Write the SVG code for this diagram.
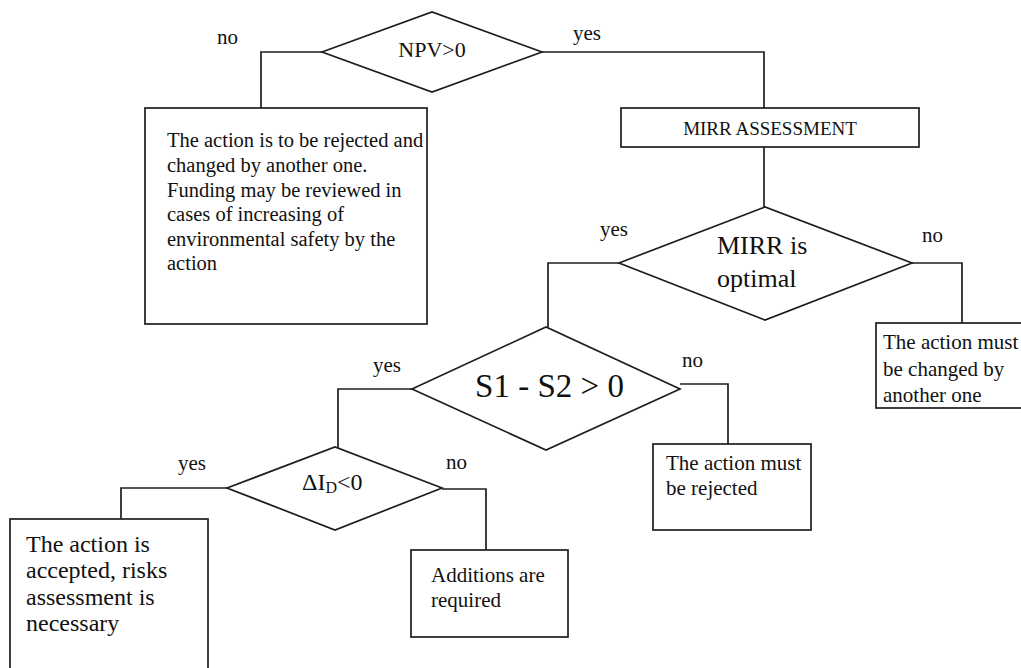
<svg xmlns="http://www.w3.org/2000/svg" width="1021" height="668" viewBox="0 0 1021 668">
<style>
.shape{fill:#fff;stroke:#1e1e1e;stroke-width:1.7}
.conn{fill:none;stroke:#1e1e1e;stroke-width:1.7}
text{font-family:"Liberation Serif","Times New Roman",serif;fill:#111}
.lbl{font-size:21px}
.box{font-size:21px}
</style>
<rect width="1021" height="668" fill="#fff"/>
<g id="connectors">
<polyline class="conn" points="322,52 261,52 261,108"/>
<polyline class="conn" points="542,52 764,52 764,108"/>
<polyline class="conn" points="764,147 764,207"/>
<polyline class="conn" points="619,263 548,263 548,327"/>
<polyline class="conn" points="912,263 962,263 962,323"/>
<polyline class="conn" points="412,389 338,389 338,448"/>
<polyline class="conn" points="680,384 728,384 728,444"/>
<polyline class="conn" points="227,488 121,488 121,519"/>
<polyline class="conn" points="442,489 486,489 486,550"/>
<text class="lbl" x="217" y="44">no</text>
<text class="lbl" x="573" y="40">yes</text>
<text class="lbl" x="600" y="236">yes</text>
<text class="lbl" x="922" y="242">no</text>
<text class="lbl" x="373" y="372">yes</text>
<text class="lbl" x="682" y="367">no</text>
<text class="lbl" x="178" y="470">yes</text>
<text class="lbl" x="446" y="469">no</text>
</g>
<g id="npv">
<polygon class="shape" points="322,52 432,12 542,52 432,92"/>
<text x="432" y="57" font-size="22" text-anchor="middle">NPV&gt;0</text>
</g>
<g id="reject-npv">
<rect class="shape" x="145" y="108" width="282" height="216"/>
<text class="box" font-size="20.5" style="font-size:20.5px">
<tspan x="167" y="147">The action is to be rejected and</tspan>
<tspan x="167" y="172">changed by another one.</tspan>
<tspan x="167" y="197">Funding may be reviewed in</tspan>
<tspan x="167" y="221">cases of increasing of</tspan>
<tspan x="167" y="246">environmental safety by the</tspan>
<tspan x="167" y="270">action</tspan>
</text>
</g>
<g id="mirr-assessment">
<rect class="shape" x="621" y="108" width="298" height="39"/>
<text x="770" y="135" font-size="19" text-anchor="middle">MIRR ASSESSMENT</text>
</g>
<g id="mirr-optimal">
<polygon class="shape" points="619,263 765,207 912,263 765,320"/>
<text font-size="26">
<tspan x="717" y="254">MIRR is</tspan>
<tspan x="717" y="287">optimal</tspan>
</text>
</g>
<g id="changed">
<rect class="shape" x="876" y="323" width="160" height="85"/>
<text class="box">
<tspan x="883" y="349">The action must</tspan>
<tspan x="883" y="376">be changed by</tspan>
<tspan x="883" y="402">another one</tspan>
</text>
</g>
<g id="s1s2">
<polygon class="shape" points="412,389 546,327 680,389 546,450"/>
<text x="549.5" y="397" font-size="33" text-anchor="middle">S1 - S2 &gt; 0</text>
</g>
<g id="rejected">
<rect class="shape" x="653" y="444" width="158" height="86"/>
<text class="box">
<tspan x="666" y="470">The action must</tspan>
<tspan x="666" y="495">be rejected</tspan>
</text>
</g>
<g id="delta-id">
<polygon class="shape" points="227,488 335,447 442,488 335,530"/>
<text x="302" y="490" font-size="24">ΔI<tspan font-size="16" dy="3">D</tspan><tspan dy="-3">&lt;0</tspan></text>
</g>
<g id="accepted">
<rect class="shape" x="10" y="519" width="198" height="170"/>
<text font-size="24">
<tspan x="26" y="552">The action is</tspan>
<tspan x="26" y="578">accepted, risks</tspan>
<tspan x="26" y="605">assessment is</tspan>
<tspan x="26" y="631">necessary</tspan>
</text>
</g>
<g id="additions">
<rect class="shape" x="411" y="550" width="157" height="87"/>
<text class="box">
<tspan x="431" y="582">Additions are</tspan>
<tspan x="431" y="607">required</tspan>
</text>
</g>
</svg>
